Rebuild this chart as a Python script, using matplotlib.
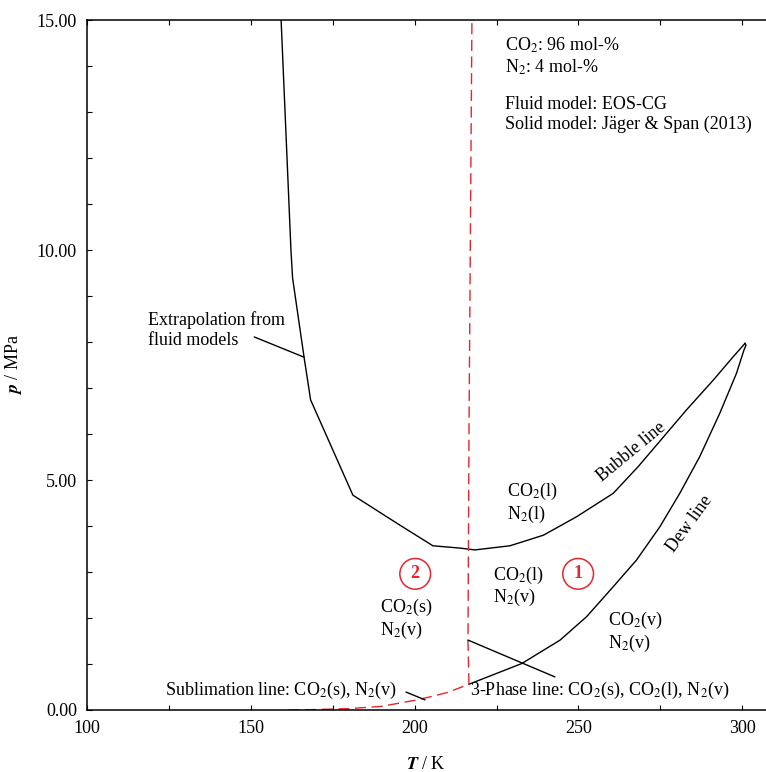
import matplotlib
matplotlib.use('Agg')
from matplotlib import pyplot as plt
from matplotlib.ticker import MultipleLocator, FormatStrFormatter

# phase envelope (T in K, p in MPa)
bubble_T = [159.3, 162.3, 162.8, 166.3, 168.3, 181.2, 195.5, 205.6, 213.8, 218.4,
            229.1, 239.3, 249.4, 260.6, 268.2, 274.3, 282.9, 291.1, 297.2, 300.8]
bubble_p = [15.0, 10.0, 9.39, 7.67, 6.74, 4.67, 4.02, 3.57, 3.52, 3.48,
            3.57, 3.80, 4.20, 4.71, 5.29, 5.80, 6.52, 7.17, 7.68, 7.97]
dew_T = [300.8, 301.1, 300.5, 298.2, 293.1, 287.0, 280.9, 274.8, 267.7, 260.6,
         252.5, 244.4, 232.7, 216.6]
dew_p = [7.97, 7.93, 7.83, 7.32, 6.45, 5.51, 4.71, 3.98, 3.26, 2.68,
         2.03, 1.52, 1.01, 0.56]
subl_T = [161.5, 170.0, 180.0, 190.0, 200.0, 205.0, 210.0, 216.6]
subl_p = [0.0, 0.01, 0.03, 0.08, 0.21, 0.29, 0.38, 0.56]
melt_T = [216.6, 216.3, 216.6, 217.5]
melt_p = [0.56, 1.5, 6.0, 15.0]

plt.rcParams['font.family'] = ['Liberation Serif', 'DejaVu Serif']
plt.rcParams['mathtext.fontset'] = 'stix'
fs = 13
red = '#e5262d'

my_dpi = 100
fig = plt.figure(figsize=(766 / my_dpi, 772 / my_dpi), dpi=my_dpi)
ax = fig.add_axes([86.7 / 766, 62 / 772, 1 - 86.7 / 766, 690 / 772])

ax.plot(bubble_T, bubble_p, color='black', lw=1.0)
ax.plot(dew_T, dew_p, color='black', lw=1.0)
ax.plot(subl_T, subl_p, color=red, lw=1.0, dashes=(8, 4))
ax.plot(melt_T, melt_p, color=red, lw=1.0, dashes=(8, 4))

ax.set_xlim(100, 307.2)
ax.set_ylim(0, 15)
ax.xaxis.set_major_locator(MultipleLocator(50))
ax.xaxis.set_minor_locator(MultipleLocator(25))
ax.yaxis.set_major_locator(MultipleLocator(5))
ax.yaxis.set_minor_locator(MultipleLocator(1))
ax.yaxis.set_major_formatter(FormatStrFormatter('%.2f'))
ax.tick_params(which='both', direction='in', top=True, right=False, length=3.5, width=0.8,
               labelsize=fs, pad=7)
ax.spines['right'].set_visible(False)
for s in ['left', 'top', 'bottom']:
    ax.spines[s].set_linewidth(1.1)

ax.set_xlabel(r'$\mathbfit{T}$ / K', fontsize=fs, labelpad=14)
ax.set_ylabel(r'$\mathbfit{p}$ / MPa', fontsize=fs, labelpad=9)

# info block
ax.text(227.6, 14.21, 'CO$_2$: 96 mol-%\nN$_2$: 4 mol-%', fontsize=fs, va='center', linespacing=1.2)
ax.text(227.6, 12.95, 'Fluid model: EOS-CG\nSolid model: Jäger & Span (2013)', fontsize=fs,
        va='center', linespacing=1.2)

# phase region labels
ax.text(228.2, 4.5, 'CO$_2$(l)\nN$_2$(l)', fontsize=fs, va='center', linespacing=1.1)
ax.text(223.9, 2.68, 'CO$_2$(l)\nN$_2$(v)', fontsize=fs, va='center', linespacing=1.05)
ax.text(189.4, 1.98, 'CO$_2$(s)\nN$_2$(v)', fontsize=fs, va='center', linespacing=1.1)
ax.text(258.9, 1.70, 'CO$_2$(v)\nN$_2$(v)', fontsize=fs, va='center', linespacing=1.1)

circ = dict(boxstyle='circle,pad=0.38', ec=red, fc='none', lw=1.1)
ax.text(200.2, 2.96, '2', color=red, fontsize=fs, fontweight='bold', ha='center', va='center', bbox=circ)
ax.text(249.9, 2.96, '1', color=red, fontsize=fs, fontweight='bold', ha='center', va='center', bbox=circ)

ax.text(266.0, 5.6, 'Bubble line', fontsize=fs, rotation=39.5, ha='center', va='center',
        rotation_mode='anchor')
ax.text(283.9, 4.04, 'Dew line', fontsize=fs, rotation=54, ha='center', va='center',
        rotation_mode='anchor')

# pointer labels
ax.text(118.7, 8.26, 'Extrapolation from\nfluid models', fontsize=fs, va='center', linespacing=1.2)
ax.annotate('', xy=(166.3, 7.67), xytext=(151.1, 8.11),
            arrowprops=dict(arrowstyle='-', lw=1.0, color='black', shrinkA=0, shrinkB=0))
ax.text(194.7, 0.43, 'Sublimation line: CO$_2$(s), N$_2$(v)', fontsize=fs, ha='right', va='center')
ax.annotate('', xy=(203.2, 0.22), xytext=(197.4, 0.39),
            arrowprops=dict(arrowstyle='-', lw=1.0, color='black', shrinkA=0, shrinkB=0))
ax.annotate('', xy=(242.8, 0.72), xytext=(216.3, 1.52),
            arrowprops=dict(arrowstyle='-', lw=1.0, color='black', shrinkA=0, shrinkB=0))
ax.text(216.9, 0.43, '3-Phase line: CO$_2$(s), CO$_2$(l), N$_2$(v)', fontsize=fs, va='center')

plt.savefig('out.png', dpi=my_dpi)
